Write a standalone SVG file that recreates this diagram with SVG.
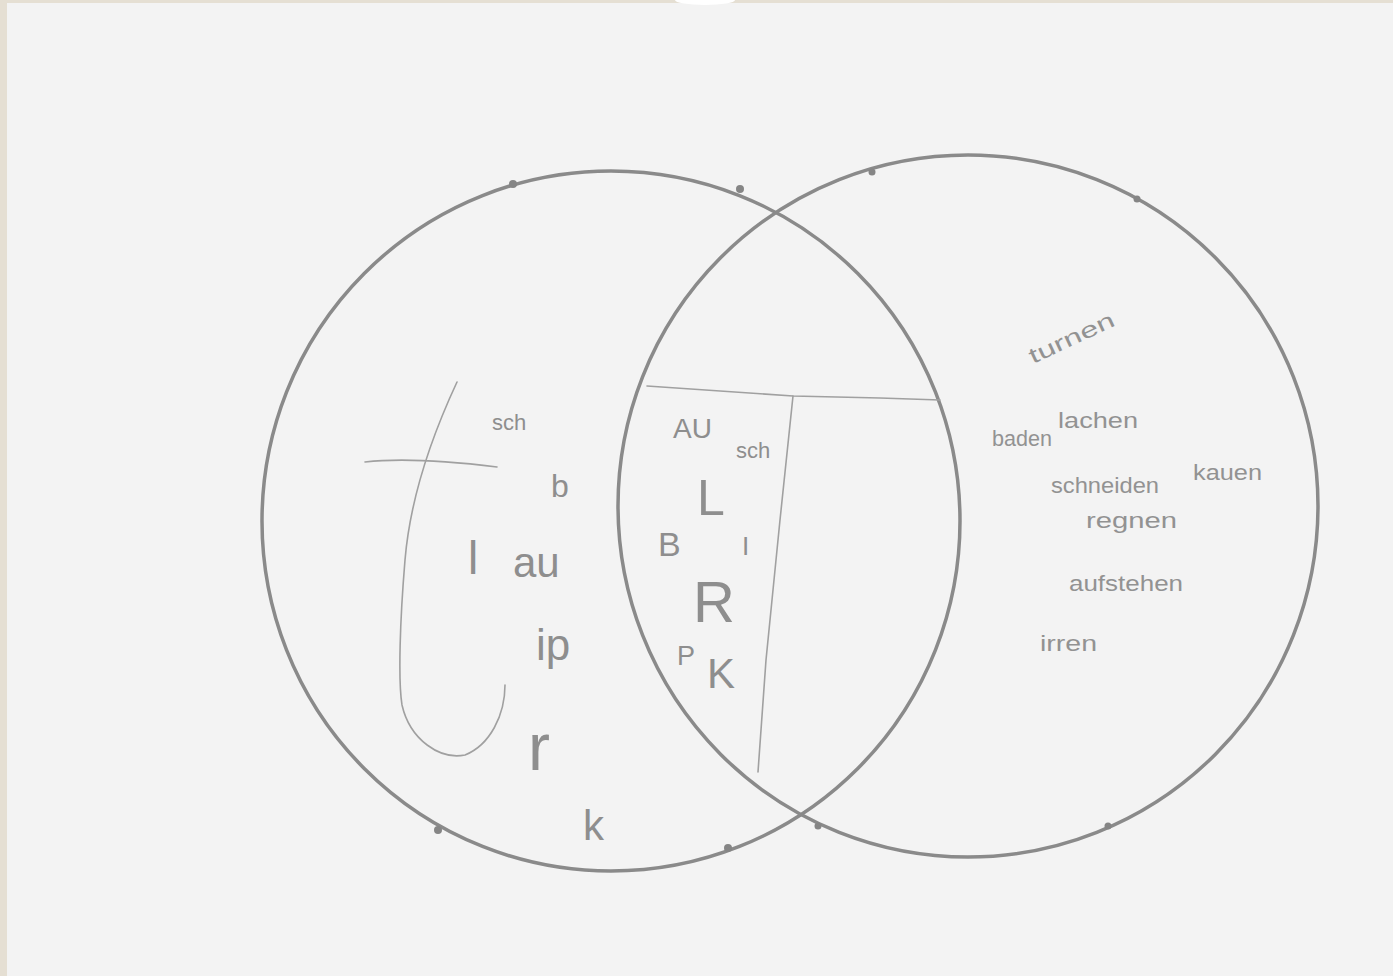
<svg xmlns="http://www.w3.org/2000/svg" width="1393" height="976" viewBox="0 0 1393 976">
<style>
.ring{fill:none;stroke:#8a8a8a;stroke-width:3.5}
.dot{fill:#858585}
.pen{fill:none;stroke:#a0a0a0;stroke-width:1.6;stroke-linecap:round;stroke-linejoin:round}
.hw{font-family:"Liberation Sans","DejaVu Sans",sans-serif;fill:#8e8e8e}
.wd{font-family:"Liberation Sans","DejaVu Sans",sans-serif;fill:#929292;font-size:22px}
</style>
<rect x="0" y="0" width="1393" height="976" fill="#e5dfd3"/>
<rect x="7" y="3" width="1386" height="973" fill="#f3f3f3"/>
<ellipse cx="705" cy="0" rx="30" ry="5" fill="#ffffff"/>
<g id="left-circle">
<ellipse class="ring" cx="611" cy="521" rx="349" ry="350"/>
<circle class="dot" cx="513" cy="184" r="4"/>
<circle class="dot" cx="740" cy="189" r="4"/>
<circle class="dot" cx="438" cy="830" r="4"/>
<circle class="dot" cx="728" cy="848" r="4"/>
</g>
<g id="right-circle">
<ellipse class="ring" cx="968" cy="506" rx="350" ry="351"/>
<circle class="dot" cx="872" cy="172" r="3.5"/>
<circle class="dot" cx="1137" cy="199" r="3.5"/>
<circle class="dot" cx="1108" cy="826" r="3.5"/>
<circle class="dot" cx="818" cy="826" r="3.5"/>
</g>
<g id="connectors">
<path class="pen" d="M647,386 L793,396 L880,398 L940,400"/>
<path class="pen" d="M793,396 L780,520 L766,660 L758,772"/>
<path class="pen" d="M457,382 C430,440 410,500 405,560 C400,620 398,680 402,705 C410,740 440,760 465,755 C490,745 505,715 505,685"/>
<path class="pen" d="M365,462 C400,458 440,460 497,467"/>
</g>
<g id="left-letters">
<text class="hw" x="492" y="430" font-size="22">sch</text>
<text class="hw" x="551" y="497" font-size="32">b</text>
<text class="hw" x="468" y="574" font-size="46">l</text>
<text class="hw" x="513" y="577" font-size="42">au</text>
<text class="hw" x="536" y="660" font-size="44">ip</text>
<text class="hw" x="528" y="770" font-size="66">r</text>
<text class="hw" x="583" y="840" font-size="42">k</text>
</g>
<g id="middle-letters">
<text class="hw" x="673" y="438" font-size="28">AU</text>
<text class="hw" x="736" y="458" font-size="22">sch</text>
<text class="hw" x="697" y="515" font-size="50">L</text>
<text class="hw" x="658" y="556" font-size="34">B</text>
<text class="hw" x="742" y="555" font-size="26">I</text>
<text class="hw" x="693" y="622" font-size="58">R</text>
<text class="hw" x="677" y="665" font-size="27">P</text>
<text class="hw" x="707" y="688" font-size="42">K</text>
</g>
<g id="right-words">
<text class="wd" transform="translate(1033,364) rotate(-25)" textLength="92" lengthAdjust="spacingAndGlyphs">turnen</text>
<text class="wd" x="992" y="446" textLength="60" lengthAdjust="spacingAndGlyphs">baden</text>
<text class="wd" x="1058" y="428" textLength="80" lengthAdjust="spacingAndGlyphs">lachen</text>
<text class="wd" x="1193" y="480" textLength="69" lengthAdjust="spacingAndGlyphs">kauen</text>
<text class="wd" x="1051" y="493" textLength="108" lengthAdjust="spacingAndGlyphs">schneiden</text>
<text class="wd" x="1086" y="528" font-size="24" textLength="91" lengthAdjust="spacingAndGlyphs">regnen</text>
<text class="wd" x="1069" y="591" textLength="114" lengthAdjust="spacingAndGlyphs">aufstehen</text>
<text class="wd" x="1040" y="651" textLength="57" lengthAdjust="spacingAndGlyphs">irren</text>
</g>
</svg>
